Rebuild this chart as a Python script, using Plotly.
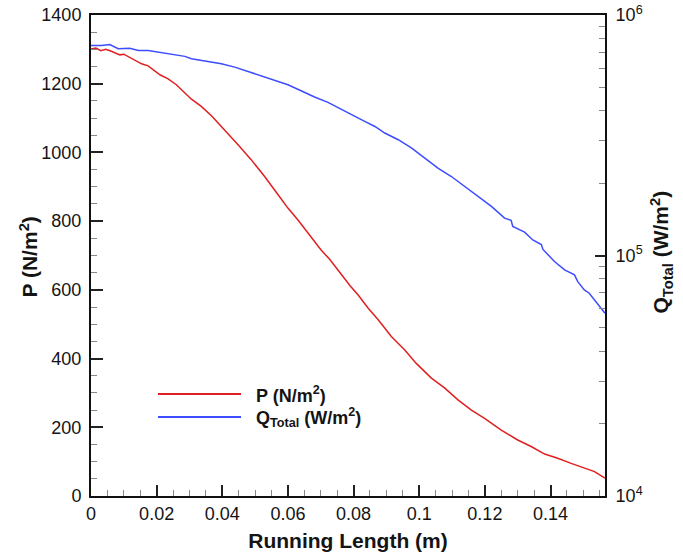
import plotly.graph_objects as go

# ---- data ----
x_p = [0, 0.0015, 0.0030, 0.0045, 0.0060, 0.0075, 0.0088, 0.0100, 0.0113, 0.0154, 0.0174, 0.021,
       0.0235, 0.026, 0.0306, 0.0336, 0.0367, 0.0407, 0.0448, 0.0488, 0.0529, 0.057, 0.060,
       0.063, 0.0671, 0.0701, 0.0727, 0.0760, 0.0790, 0.0814, 0.0844, 0.0875, 0.0915, 0.0956,
       0.0991, 0.1037, 0.1078, 0.1118, 0.1159, 0.1199, 0.125, 0.130, 0.1341, 0.1382, 0.1422,
       0.1463, 0.1503, 0.1534, 0.1566]
p_vals = [1301, 1304, 1296, 1300, 1295, 1288, 1284, 1286, 1279, 1258, 1252, 1226,
          1214, 1197, 1155, 1134, 1107, 1066, 1022, 979, 930, 877, 838,
          804, 755, 716, 689, 648, 611, 585, 547, 513, 464, 425,
          386, 343, 314, 280, 250, 226, 192, 163, 144, 122, 110,
          95, 81, 71, 52]

x_q = [0, 0.0032, 0.0057, 0.0083, 0.0118, 0.0144, 0.0174, 0.0204, 0.0245, 0.0286, 0.0306,
       0.0357, 0.0397, 0.0438, 0.0478, 0.0519, 0.0559, 0.060, 0.064, 0.0681, 0.0722, 0.0762,
       0.0794, 0.0834, 0.0865, 0.0895, 0.0936, 0.0976, 0.1017, 0.1057, 0.1098, 0.1138, 0.1179,
       0.1220, 0.126, 0.128, 0.1285, 0.1321, 0.1346, 0.1372, 0.1377, 0.1402, 0.1412, 0.1443,
       0.1473, 0.1483, 0.1503, 0.1518, 0.1543, 0.1566]
q_vals = [747e3, 747e3, 754e3, 724e3, 727e3, 712e3, 712e3, 701e3, 684e3, 673e3, 658e3,
          641e3, 627e3, 607e3, 582e3, 559e3, 534e3, 513e3, 484e3, 456e3, 433e3, 404e3,
          385e3, 361e3, 344e3, 323e3, 303e3, 280e3, 254e3, 231e3, 213e3, 194e3, 176e3,
          160e3, 143e3, 140e3, 132e3, 125e3, 116e3, 111e3, 106e3, 98e3, 94.4e3, 87.2e3,
          83.1e3, 77.9e3, 71.9e3, 69.7e3, 63.4e3, 57.5e3]

x_ticks = [0, 0.02, 0.04, 0.06, 0.08, 0.1, 0.12, 0.14]
x_ticktext = ["0", "0.02", "0.04", "0.06", "0.08", "0.1", "0.12", "0.14"]
p_ticks = [0, 200, 400, 600, 800, 1000, 1200, 1400]
q_ticks = [1e4, 1e5, 1e6]
q_ticktext = ["10<sup>4</sup>", "10<sup>5</sup>", "10<sup>6</sup>"]
q_minor = [k * 10 ** e for e in (4, 5) for k in range(2, 10)]

RED = "#e02020"
BLUE = "#3c4cff"
FONT = "Liberation Sans, Arial, sans-serif"
TXT = "#141414"

fig = go.Figure()
fig.add_trace(go.Scatter(x=x_p, y=p_vals, mode="lines", line=dict(color=RED, width=1.5),
                         name="P (N/m<sup>2</sup>)", yaxis="y", showlegend=False))
fig.add_trace(go.Scatter(x=x_q, y=q_vals, mode="lines", line=dict(color=BLUE, width=1.5),
                         name="Q<sub>Total</sub> (W/m<sup>2</sup>)", yaxis="y2", showlegend=False))

fig.update_layout(
    width=683, height=556,
    margin=dict(l=91, r=78, t=15, b=60, autoexpand=False),
    paper_bgcolor="white", plot_bgcolor="white",
    font=dict(family=FONT, size=18, color=TXT),
    xaxis=dict(
        range=[0, 0.1566], tickvals=x_ticks, ticktext=x_ticktext, automargin=False,
        ticks="inside", ticklen=11, tickwidth=2, tickcolor="#222",
        showline=True, linecolor="#111", linewidth=2, mirror=True,
        showgrid=False, zeroline=False, tickfont=dict(size=18),
        minor=dict(dtick=0.005, ticks="inside", ticklen=6, tickwidth=1, tickcolor="#888"),
        title=dict(text="<b>Running Length (m)</b>", font=dict(size=21), standoff=11),
    ),
    yaxis=dict(
        range=[0, 1400], tickvals=p_ticks, automargin=False,
        ticks="inside", ticklen=12, tickwidth=2, tickcolor="#222",
        showline=True, linecolor="#111", linewidth=2,
        showgrid=False, zeroline=False, tickfont=dict(size=18), ticklabelstandoff=4,
        minor=dict(dtick=50, ticks="inside", ticklen=6, tickwidth=1, tickcolor="#888"),
    ),
    yaxis2=dict(
        type="log", range=[4, 6], overlaying="y", side="right", automargin=False,
        tickvals=q_ticks, ticktext=q_ticktext,
        ticks="inside", ticklen=10, tickwidth=2, tickcolor="#222",
        showline=True, linecolor="#111", linewidth=2,
        showgrid=False, zeroline=False, tickfont=dict(size=18), ticklabelstandoff=5,
        minor=dict(tickvals=q_minor, ticks="inside", ticklen=6, tickwidth=1, tickcolor="#888"),
    ),
)

# y-axis titles as rotated annotations for exact placement
fig.add_annotation(xref="paper", yref="paper", x=0, y=0.5, xshift=-63, yshift=-2,
                   text="<b>P (N/m<sup>2</sup>)</b>", textangle=-90, showarrow=False,
                   xanchor="center", yanchor="middle", font=dict(size=21, family=FONT, color=TXT))
fig.add_annotation(xref="paper", yref="paper", x=1, y=0.5, xshift=56, yshift=3,
                   text="<b>Q<sub>Total</sub> (W/m<sup>2</sup>)</b>", textangle=-90, showarrow=False,
                   xanchor="center", yanchor="middle", font=dict(size=21, family=FONT, color=TXT))

# manual legend (long sample lines, as in the reference)
leg_items = [("<b>P (N/m<sup>2</sup>)</b>", RED, 394), ("<b>Q<sub>Total</sub> (W/m<sup>2</sup>)</b>", BLUE, 417)]
for text, col, ypx in leg_items:
    yp = 1 - (ypx - 15) / (556 - 15 - 60)
    x0 = (158 - 91) / (683 - 91 - 78)
    x1 = (241 - 91) / (683 - 91 - 78)
    xt = (254 - 91) / (683 - 91 - 78)
    fig.add_shape(type="line", xref="paper", yref="paper", x0=x0, x1=x1, y0=yp, y1=yp,
                  line=dict(color=col, width=2))
    fig.add_annotation(xref="paper", yref="paper", x=xt, y=yp, text=text, showarrow=False,
                       xanchor="left", yanchor="middle", font=dict(size=18, family=FONT, color=TXT))

fig.write_html("out.html", config={"displayModeBar": False},
               post_script="document.body.style.margin='0';document.body.style.overflow='hidden';")
